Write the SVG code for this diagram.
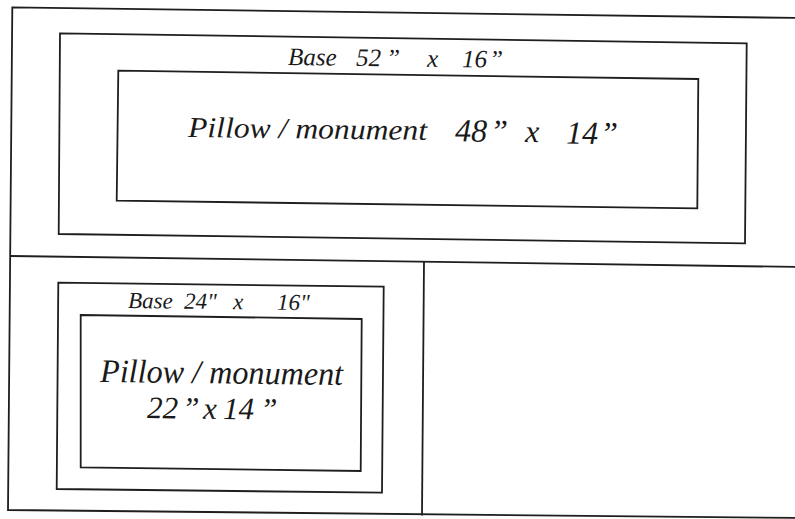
<svg xmlns="http://www.w3.org/2000/svg" width="795" height="519" viewBox="0 0 795 519">
<style>
.ln{fill:none;stroke:#1e1e1e;stroke-width:1.8;stroke-linejoin:miter}
.t{font-family:"Liberation Serif","Times New Roman",serif;font-style:italic;fill:#1a1a1a}
</style>
<rect width="795" height="519" fill="#ffffff"/>
<g id="frame">
<polyline class="ln" points="800,18 12.3,7.3 8,510 800,518"/>
<line class="ln" x1="10.5" y1="256" x2="800" y2="267"/>
<line class="ln" x1="424" y1="261" x2="422" y2="515.5"/>
</g>
<g id="big-base">
<polygon class="ln" points="60,33.3 746.7,43.3 745,243.3 58.7,234"/>
<text class="t" font-size="25" transform="rotate(0.7 288 65)"><tspan x="288" y="65">Base</tspan><tspan x="356" y="65">52</tspan><tspan x="386" y="65">”</tspan><tspan x="427" y="65">x</tspan><tspan x="462" y="65">16</tspan><tspan x="489" y="65">”</tspan></text>
</g>
<g id="big-pillow">
<polygon class="ln" points="118.3,70.7 698.3,79 697.3,208.3 116.7,200.7"/>
<text class="t" font-size="29" transform="rotate(0.7 188 137)"><tspan x="188" y="137" textLength="239" lengthAdjust="spacingAndGlyphs">Pillow / monument</tspan><tspan x="455" y="138" font-size="32">48</tspan><tspan x="490" y="138" font-size="32">”</tspan><tspan x="525" y="138" font-size="32">x</tspan><tspan x="566" y="139" font-size="32">14</tspan><tspan x="600" y="139" font-size="32">”</tspan></text>
</g>
<g id="small-base">
<polygon class="ln" points="58.3,282.7 383.7,286.7 382,492.7 56.7,489"/>
<text class="t" font-size="23" transform="rotate(0.7 128 308)"><tspan x="128" y="308">Base</tspan><tspan x="184" y="308">24"</tspan><tspan x="233" y="308">x</tspan><tspan x="277" y="308">16"</tspan></text>
</g>
<g id="small-pillow">
<polygon class="ln" points="80.7,315 361.7,319 360.7,471 80.7,467.3"/>
<text class="t" font-size="33" transform="rotate(0.7 100 382)"><tspan x="100" y="382" textLength="243" lengthAdjust="spacingAndGlyphs">Pillow / monument</tspan></text>
<text class="t" font-size="31" transform="rotate(0.7 147 418)"><tspan x="147" y="418">22</tspan><tspan x="182" y="418">”</tspan><tspan x="203" y="418">x</tspan><tspan x="223" y="418">14</tspan><tspan x="260" y="418">”</tspan></text>
</g>
</svg>
